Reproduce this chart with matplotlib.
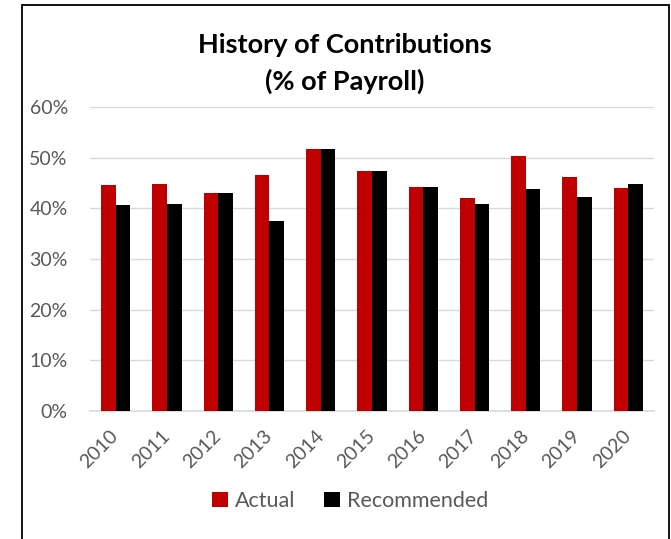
import matplotlib
matplotlib.use("Agg")
import matplotlib.pyplot as plt
import numpy as np
from matplotlib.patches import Rectangle
from matplotlib.ticker import FuncFormatter

years = ["2010", "2011", "2012", "2013", "2014", "2015", "2016", "2017", "2018", "2019", "2020"]
actual = [44.6, 44.8, 43.0, 46.7, 51.8, 47.5, 44.2, 42.0, 50.4, 46.3, 44.1]
recommended = [40.7, 40.8, 43.0, 37.6, 51.8, 47.5, 44.2, 40.8, 43.8, 42.2, 44.9]

plt.rcParams['font.family'] = ['Lato', 'DejaVu Sans']

W, H = 671, 539
fig = plt.figure(figsize=(W / 100, H / 100), dpi=100)

# chart border
fig.patches.append(Rectangle((22 / W, -0.05), (669 - 22) / W, 1.05 - 5 / H,
                             transform=fig.transFigure, fill=False,
                             edgecolor='black', linewidth=1.3, zorder=0))

ax = fig.add_axes([90 / W, 1 - 410.7 / H, (654 - 90) / W, (410.7 - 107.3) / H])
x = np.arange(len(years))
bw = 0.285
ax.bar(x - bw / 2, [v / 100 for v in actual], bw, color='#C00000', label='Actual', zorder=3)
ax.bar(x + bw / 2, [v / 100 for v in recommended], bw, color='#000000', label='Recommended', zorder=3)

ax.set_xlim(-0.5, len(years) - 0.5)
ax.set_ylim(0, 0.6)
ax.set_yticks(np.arange(0, 0.61, 0.1))
ax.yaxis.set_major_formatter(FuncFormatter(lambda v, p: f"{v*100:.0f}%"))
ax.grid(axis='y', color='#D9D9D9', linewidth=1.0, zorder=0)
for s in ['top', 'right', 'left']:
    ax.spines[s].set_visible(False)
ax.spines['bottom'].set_color('#D9D9D9')
ax.spines['bottom'].set_linewidth(1.2)
ax.tick_params(axis='both', length=0, labelsize=14, labelcolor='#595959')
ax.tick_params(axis='y', pad=16)
ax.set_xticks(x)
ax.set_xticklabels(years, rotation=45, ha='right', va='center', rotation_mode='anchor')
ax.tick_params(axis='x', pad=16)

fig.text(0.514, 1 - 45 / H, "History of Contributions", ha='center', va='center',
         fontsize=19.5, fontweight='bold', color='black')
fig.text(0.514, 1 - 81 / H, "(% of Payroll)", ha='center', va='center',
         fontsize=19.5, fontweight='bold', color='black')

leg = fig.legend(loc='center', bbox_to_anchor=(350 / W, 1 - 501 / H), ncol=2, frameon=False,
                 fontsize=15.5, handlelength=0.75, handleheight=0.75, handletextpad=0.35,
                 columnspacing=1.3)
for t in leg.get_texts():
    t.set_color('#595959')

fig.savefig("out.png", dpi=100)
